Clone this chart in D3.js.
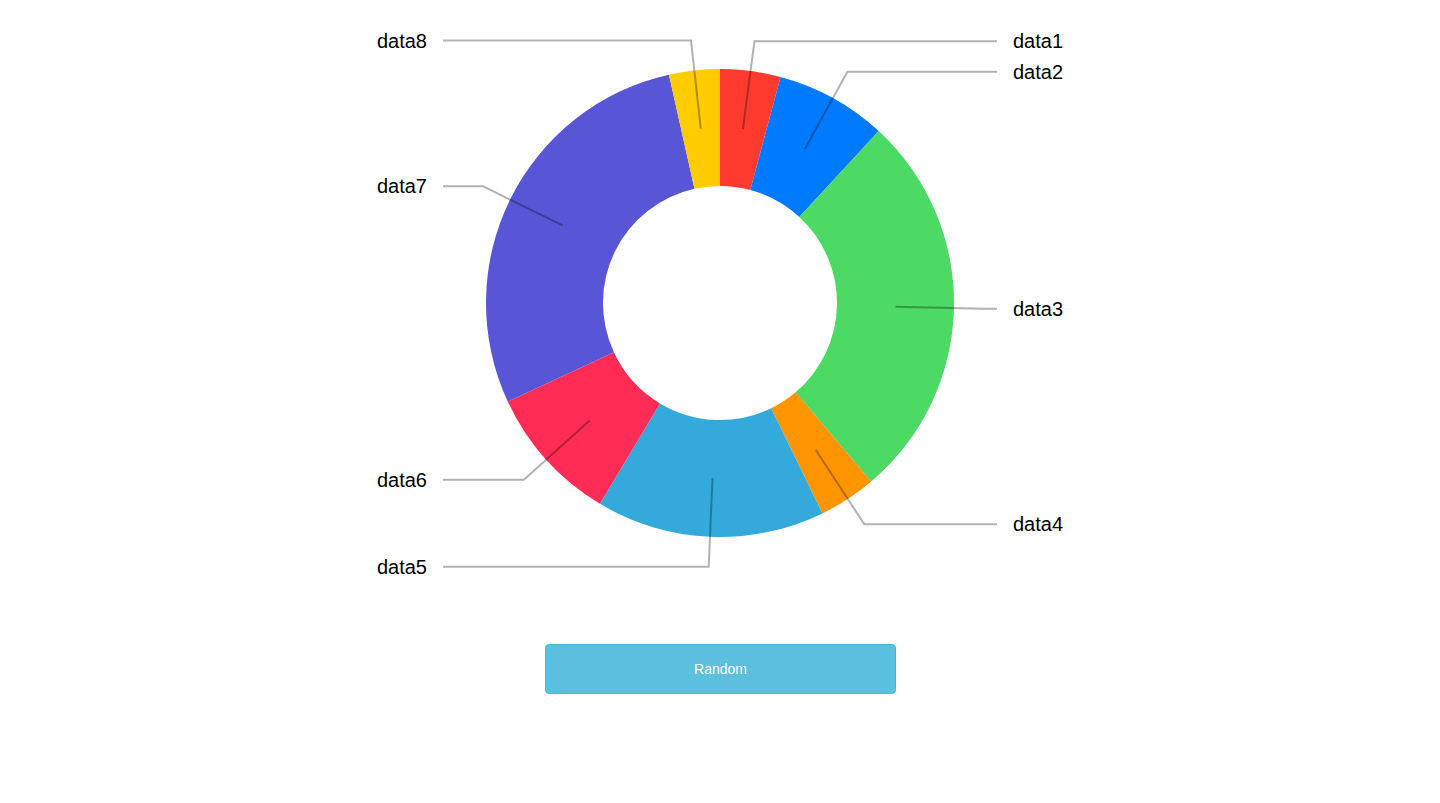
<!DOCTYPE html>
<html>
<head>
<meta charset="utf-8">
<script src="https://cdn.jsdelivr.net/npm/d3@7"></script>
<style>
  html, body { margin: 0; padding: 0; background: #fff; }
  body { width: 1440px; height: 803px; position: relative; font-family: "Liberation Sans", Arial, Helvetica, sans-serif; }
  svg { position: absolute; left: 0; top: 0; }
  polyline { opacity: .3; stroke: black; stroke-width: 2px; fill: none; }
  .btn {
    position: absolute; left: 545px; top: 644px; width: 351px; height: 50px;
    box-sizing: border-box; background: #5bc0de; border: 1px solid #46b8da; border-radius: 4px;
    color: #fff; font-size: 14px; font-family: "Liberation Sans", Arial, Helvetica, sans-serif;
    display: flex; align-items: center; justify-content: center; cursor: pointer;
  }
</style>
</head>
<body>
<div class="btn">Random</div>
<script>
const categories = ["data1", "data2", "data3", "data4", "data5", "data6", "data7", "data8"];
const values = [15, 27.7, 97, 14.3, 56.8, 34.2, 102.3, 12.6];
const colors = ["#ff3b30", "#007aff", "#4cd964", "#ff9500", "#34aadc", "#ff2d55", "#5856d6", "#ffcc00"];

const W = 1440, H = 803;
const cx = 720, cy = 303;
const outerR = 234, innerR = 117, labelR = 264, labelX = 277;

const data = categories.map((c, i) => ({ name: c, value: values[i], color: colors[i] }));

const svg = d3.select("body").append("svg").attr("width", W).attr("height", H);
const g = svg.append("g").attr("transform", `translate(${cx},${cy})`);

const pie = d3.pie().sort(null).value(d => d.value);
const arc = d3.arc().innerRadius(innerR).outerRadius(outerR);
const outerArc = d3.arc().innerRadius(labelR).outerRadius(labelR);
const arcs = pie(data);

g.selectAll("path.slice").data(arcs).join("path")
  .attr("class", "slice")
  .attr("d", arc)
  .attr("fill", d => d.data.color);

const midAngle = d => d.startAngle + (d.endAngle - d.startAngle) / 2;

g.selectAll("polyline").data(arcs).join("polyline")
  .attr("points", d => {
    const p1 = arc.centroid(d);
    const p2 = outerArc.centroid(d);
    const p3 = [midAngle(d) < Math.PI ? labelX : -labelX, p2[1]];
    return [p1, p2, p3].map(p => p.join(",")).join(" ");
  });

g.selectAll("text").data(arcs).join("text")
  .attr("x", d => midAngle(d) < Math.PI ? labelX + 16 : -labelX - 16)
  .attr("y", d => outerArc.centroid(d)[1])
  .attr("dy", ".35em")
  .attr("text-anchor", d => midAngle(d) < Math.PI ? "start" : "end")
  .attr("font-size", "20px")
  .attr("fill", "#000")
  .text(d => d.data.name);
</script>
</body>
</html>
